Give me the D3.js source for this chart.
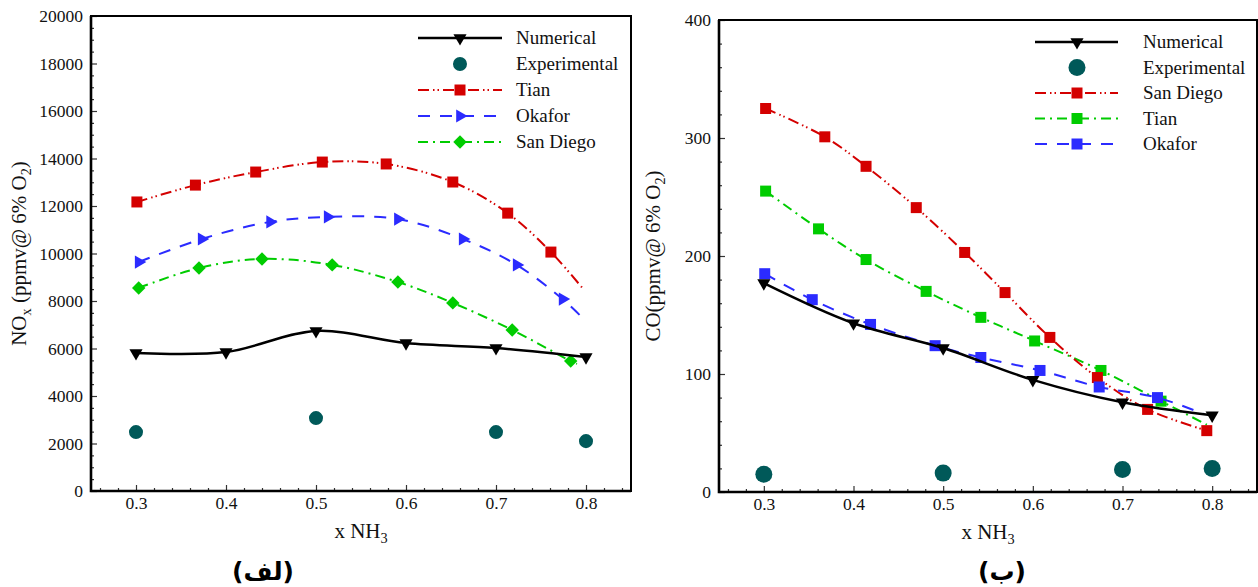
<!DOCTYPE html>
<html>
<head>
<meta charset="utf-8">
<script src="https://cdn.jsdelivr.net/npm/d3@7"></script>
<style>
  body { margin: 0; background: #fff; }
  svg { display: block; }
</style>
</head>
<body>
<svg width="1258" height="587"></svg>
<script>
// shared x ticks (mole fraction of NH3)
var xTicks = [0.3, 0.4, 0.5, 0.6, 0.7, 0.8];

// ---- panel (a): NOx ----
var noxNumX = [0.3, 0.4, 0.5, 0.6, 0.7, 0.8];
var noxNumY = [5810, 5850, 6740, 6230, 6020, 5640];
var noxExpX = [0.3, 0.5, 0.7, 0.8];
var noxExpY = [2480, 3070, 2480, 2100];
var noxTianX = [0.301, 0.366, 0.433, 0.507, 0.578, 0.652, 0.713, 0.761, 0.797];
var noxTianY = [12170, 12880, 13430, 13850, 13770, 13010, 11700, 10060, 8500];
var noxOkaforX = [0.303, 0.373, 0.449, 0.513, 0.591, 0.663, 0.723, 0.774, 0.794];
var noxOkaforY = [9640, 10610, 11330, 11540, 11450, 10610, 9520, 8080, 7370];
var noxSanDiegoX = [0.303, 0.370, 0.440, 0.518, 0.591, 0.652, 0.718, 0.783, 0.790];
var noxSanDiegoY = [8550, 9390, 9770, 9520, 8800, 7920, 6780, 5470, 5350];
var noxTicks = [0, 2000, 4000, 6000, 8000, 10000, 12000, 14000, 16000, 18000, 20000];

// ---- panel (b): CO ----
var coNumX = [0.3, 0.4, 0.5, 0.6, 0.7, 0.8];
var coNumY = [177, 143, 122, 95, 76, 65];
var coExpX = [0.3, 0.5, 0.7, 0.8];
var coExpY = [15, 16, 19, 20];
var coSanDiegoX = [0.302, 0.368, 0.414, 0.470, 0.524, 0.569, 0.619, 0.672, 0.728, 0.794];
var coSanDiegoY = [325, 301, 276, 241, 203, 169, 131, 97, 70, 52];
var coTianX = [0.302, 0.361, 0.414, 0.481, 0.542, 0.602, 0.676, 0.743, 0.794];
var coTianY = [255, 223, 197, 170, 148, 128, 103, 77, 57];
var coOkaforX = [0.301, 0.354, 0.419, 0.491, 0.542, 0.608, 0.674, 0.739, 0.791];
var coOkaforY = [185, 163, 142, 124, 114, 103, 89, 80, 66];
var coTicks = [0, 100, 200, 300, 400];

var serif = '"Liberation Serif", "Times New Roman", serif';
var RED = "#d40000", BLUE = "#2b2bff", GREEN = "#00cc00", TEAL = "#005959";
var DASH_DOT_DOT = "11,4,1.5,3,1.5,4", DASH = "12,10", DASH_DOT = "10,5,2,5";

var svg = d3.select("svg");

function zip(xs, ys) { return xs.map(function(v, i) { return [v, ys[i]]; }); }

// marker shapes, built from d3 symbols
var shapes = {
  down:    { type: d3.symbolTriangle, size: 75, rot: 180 },
  right:   { type: d3.symbolTriangle, size: 75, rot: 90 },
  square:  { type: d3.symbolSquare,   size: 121, rot: 0 },
  diamond: { type: d3.symbolSquare,   size: 90, rot: 45 },
  dot:     { type: d3.symbolCircle,   size: 154, rot: 0 },
  bigdot:  { type: d3.symbolCircle,   size: 227, rot: 0 }
};
function mark(sel, shape, color, cx, cy) {
  var s = shapes[shape];
  sel.append("path")
    .attr("d", d3.symbol().type(s.type).size(s.size)())
    .attr("transform", "translate(" + cx + "," + cy + ") rotate(" + s.rot + ")")
    .attr("fill", color);
}

// text with subscript parts: [["NO"], ["x", true], ...]
function richText(t, parts) {
  var shift = 0;
  parts.forEach(function(p) {
    var sp = t.append("tspan").text(p[0]);
    var target = p[1] ? 5 : 0;
    if (target !== shift) sp.attr("dy", target - shift);
    if (p[1]) sp.attr("font-size", "0.68em");
    shift = target;
  });
}

function notMajor(step) {
  return function(v) { return Math.abs(v / step - Math.round(v / step)) > 1e-6; };
}

function drawPanel(p) {
  var x = d3.scaleLinear().domain([0.25, 0.85]).range([p.left, p.right]);
  var y = d3.scaleLinear().domain([0, p.yTicks[p.yTicks.length - 1]]).range([p.bottom, p.top]);
  var g = svg.append("g");

  // minor ticks
  g.append("g").attr("transform", "translate(0," + p.bottom + ")")
    .call(d3.axisBottom(x).tickValues(x.ticks(30).filter(notMajor(0.1))).tickSize(-3).tickFormat(""));
  g.append("g").attr("transform", "translate(" + p.left + ",0)")
    .call(d3.axisLeft(y).tickValues(y.ticks(p.yMinorCount).filter(notMajor(p.yTicks[1]))).tickSize(-3).tickFormat(""));

  // major ticks + labels
  g.append("g").attr("transform", "translate(0," + p.bottom + ")")
    .call(d3.axisBottom(x).tickValues(xTicks).tickSize(-6).tickPadding(6).tickFormat(d3.format(".1f")));
  g.append("g").attr("transform", "translate(" + p.left + ",0)")
    .call(d3.axisLeft(y).tickValues(p.yTicks).tickSize(-6).tickPadding(8).tickFormat(d3.format("d")));

  g.selectAll(".domain").remove();
  g.selectAll(".tick line").attr("stroke", "#333").attr("stroke-width", 1.2);
  g.selectAll(".tick text").attr("font-family", serif).attr("font-size", 17.5).attr("fill", "#111");

  // frame and axis lines
  g.append("rect")
    .attr("x", p.left).attr("y", p.top)
    .attr("width", p.right - p.left).attr("height", p.bottom - p.top)
    .attr("fill", "none").attr("stroke", "#000").attr("stroke-width", 2);
  g.append("path")
    .attr("d", "M" + p.left + "," + p.top + "V" + p.bottom + "H" + p.right)
    .attr("fill", "none").attr("stroke", "#000").attr("stroke-width", 2.6);

  var line = d3.line()
    .x(function(d) { return x(d[0]); })
    .y(function(d) { return y(d[1]); })
    .curve(d3.curveCatmullRom.alpha(0.5));

  p.series.forEach(function(s) {
    var pts = zip(s.xs, s.ys);
    if (s.dash !== null) {
      g.append("path")
        .attr("d", line(pts))
        .attr("fill", "none")
        .attr("stroke", s.color)
        .attr("stroke-width", s.width || 2)
        .attr("stroke-dasharray", s.dash || null);
    }
    var marked = s.tail ? pts.slice(0, -1) : pts;
    marked.forEach(function(d) { mark(g, s.shape, s.color, x(d[0]), y(d[1])); });
  });

  // legend
  var lg = p.legend;
  lg.order.forEach(function(s, i) {
    var ly = lg.y0 + i * lg.step;
    if (s.dash !== null) {
      g.append("line")
        .attr("x1", lg.x0).attr("x2", lg.x1).attr("y1", ly).attr("y2", ly)
        .attr("stroke", s.color).attr("stroke-width", s.width || 2)
        .attr("stroke-dasharray", s.dash || null);
    }
    mark(g, s.shape, s.color, lg.mx, ly);
    g.append("text")
      .attr("x", lg.tx).attr("y", ly + 6)
      .attr("font-family", serif).attr("font-size", 19).attr("fill", "#111")
      .text(s.name);
  });

  // axis titles
  var xt = g.append("text")
    .attr("x", (p.left + p.right) / 2).attr("y", p.bottom + 47)
    .attr("text-anchor", "middle")
    .attr("font-family", serif).attr("font-size", 21).attr("fill", "#111");
  richText(xt, [["x NH"], ["3", true]]);

  var yt = g.append("text")
    .attr("transform", "translate(" + p.yTitleX + "," + ((p.top + p.bottom) / 2) + ") rotate(-90)")
    .attr("text-anchor", "middle")
    .attr("font-family", serif).attr("font-size", 21).attr("fill", "#111");
  richText(yt, p.yTitle);

  // panel tag
  svg.append("text")
    .attr("x", p.tagX).attr("y", 580)
    .attr("text-anchor", "middle")
    .attr("font-family", '"DejaVu Sans", sans-serif').attr("font-weight", "bold")
    .attr("font-size", 25).attr("fill", "#000")
    .text(p.tag);
}

// panel (a)
var aNum = { name: "Numerical", xs: noxNumX, ys: noxNumY, color: "#000", dash: "", width: 2.5, shape: "down" };
var aExp = { name: "Experimental", xs: noxExpX, ys: noxExpY, color: TEAL, dash: null, shape: "dot" };
var aTian = { name: "Tian", xs: noxTianX, ys: noxTianY, color: RED, dash: DASH_DOT_DOT, shape: "square", tail: true };
var aOkafor = { name: "Okafor", xs: noxOkaforX, ys: noxOkaforY, color: BLUE, dash: DASH, shape: "right", tail: true };
var aSanDiego = { name: "San Diego", xs: noxSanDiegoX, ys: noxSanDiegoY, color: GREEN, dash: DASH_DOT, shape: "diamond", tail: true };

drawPanel({
  left: 91, right: 631, top: 16, bottom: 491,
  yTicks: noxTicks, yMinorCount: 40,
  series: [aSanDiego, aOkafor, aTian, aExp, aNum],
  legend: { order: [aNum, aExp, aTian, aOkafor, aSanDiego], x0: 418, x1: 502, mx: 460, tx: 516, y0: 38, step: 26 },
  yTitle: [["NO"], ["x", true], [" (ppmv@ 6% O"], ["2", true], [")"]],
  yTitleX: 26,
  tag: "(لف)", tagX: 263
});

// panel (b)
var bNum = { name: "Numerical", xs: coNumX, ys: coNumY, color: "#000", dash: "", width: 2.5, shape: "down" };
var bExp = { name: "Experimental", xs: coExpX, ys: coExpY, color: TEAL, dash: null, shape: "bigdot" };
var bSanDiego = { name: "San Diego", xs: coSanDiegoX, ys: coSanDiegoY, color: RED, dash: DASH_DOT_DOT, shape: "square" };
var bTian = { name: "Tian", xs: coTianX, ys: coTianY, color: GREEN, dash: DASH_DOT, shape: "square", tail: true };
var bOkafor = { name: "Okafor", xs: coOkaforX, ys: coOkaforY, color: BLUE, dash: DASH, shape: "square", tail: true };

drawPanel({
  left: 719, right: 1257, top: 20, bottom: 492,
  yTicks: coTicks, yMinorCount: 20,
  series: [bTian, bSanDiego, bOkafor, bExp, bNum],
  legend: { order: [bNum, bExp, bSanDiego, bTian, bOkafor], x0: 1035, x1: 1118, mx: 1077, tx: 1143, y0: 42, step: 25.5 },
  yTitle: [["CO(ppmv@ 6% O"], ["2", true], [")"]],
  yTitleX: 660,
  tag: "(ب)", tagX: 1002
});
</script>
</body>
</html>
